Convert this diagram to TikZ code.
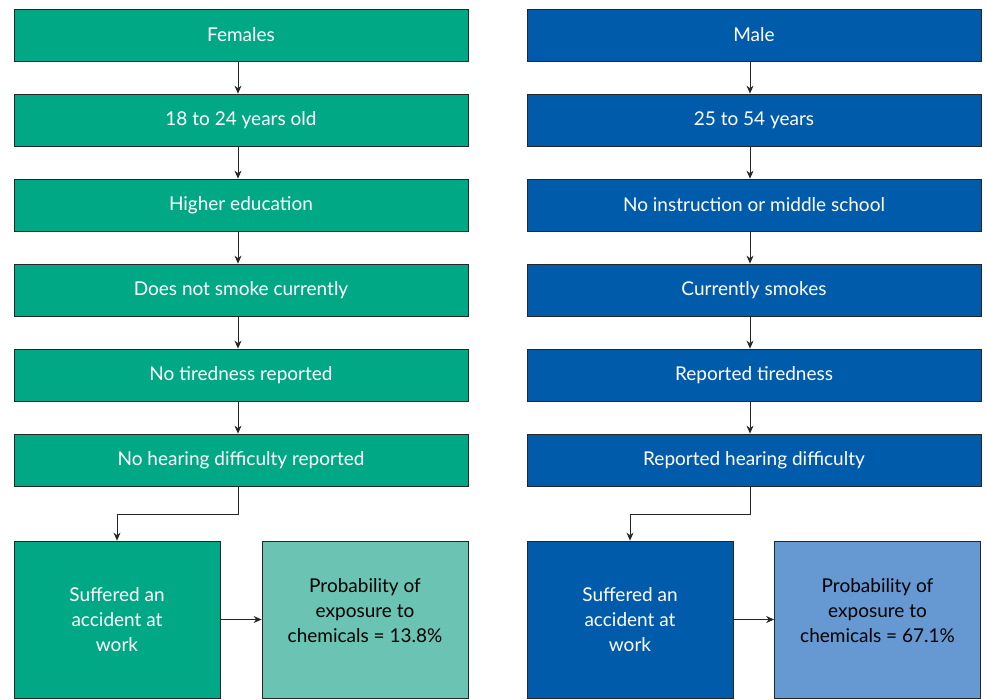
\documentclass[tikz,border=0pt]{standalone}
\usepackage{fontspec}
\setmainfont{Lato}
\usepackage{tikz}
\usetikzlibrary{arrows.meta,positioning}
\definecolor{fgreen}{HTML}{00A886}
\definecolor{fgreenlight}{HTML}{6BC4B3}
\definecolor{mblue}{HTML}{005BAA}
\definecolor{mbluelight}{HTML}{6699D2}

\begin{document}
\begin{tikzpicture}[
  box/.style={draw=black!85,line width=0.8bp,minimum width=454bp,minimum height=52bp,text=white,font=\fontsize{19bp}{25bp}\selectfont},
  sqbox/.style={draw=black!85,line width=0.8bp,minimum width=206bp,minimum height=157bp,align=center,font=\fontsize{19bp}{25bp}\selectfont},
  link/.style={-{Stealth[length=8bp,width=7bp]},line width=0.8bp,black!85}]

\useasboundingbox (0bp,0bp) rectangle (987bp,-700bp);

% females
\node (F1) at (241bp,-35bp)[box,fill=fgreen] {Females};
\node (F2) at (241bp,-120bp)[box,fill=fgreen] {18 to 24 years old};
\node (F3) at (241bp,-205bp)[box,fill=fgreen] {Higher education};
\node (F4) at (241bp,-290bp)[box,fill=fgreen] {Does not smoke currently};
\node (F5) at (241bp,-375bp)[box,fill=fgreen] {No tiredness reported};
\node (F6) at (241bp,-460bp)[box,fill=fgreen] {No hearing difficulty reported};
\node (F7) at (117bp,-619.5bp)[sqbox,fill=fgreen,text=white] {Suffered an\\accident at\\work};
\node (F8) at (365bp,-619.5bp)[sqbox,fill=fgreenlight,text=black,text depth=18bp] {Probability of\\exposure to\\chemicals = 13.8\%};

% males
\node (M1) at (754bp,-35bp)[box,fill=mblue] {Male};
\node (M2) at (754bp,-120bp)[box,fill=mblue] {25 to 54 years};
\node (M3) at (754bp,-205bp)[box,fill=mblue] {No instruction or middle school};
\node (M4) at (754bp,-290bp)[box,fill=mblue] {Currently smokes};
\node (M5) at (754bp,-375bp)[box,fill=mblue] {Reported tiredness};
\node (M6) at (754bp,-460bp)[box,fill=mblue] {Reported hearing difficulty};
\node (M7) at (630bp,-619.5bp)[sqbox,fill=mblue,text=white] {Suffered an\\accident at\\work};
\node (M8) at (877.5bp,-619.5bp)[sqbox,fill=mbluelight,text=black,text depth=18bp] {Probability of\\exposure to\\chemicals = 67.1\%};

\foreach \a/\b in {1/2,2/3,3/4,4/5,5/6} {
  \draw [link] (F\a.south -| 238bp,0) -- (F\b.north -| 238bp,0);
  \draw [link] (M\a.south -| 750bp,0) -- (M\b.north -| 750bp,0);
}
\draw [link] (F6.south -| 238bp,0) |- (117bp,-514bp) -- (F7.north);
\draw [link] (M6.south -| 750bp,0) |- (630bp,-514bp) -- (M7.north);
\draw [link] (F7) -- (F8);
\draw [link] (M7) -- (M8);
\end{tikzpicture}
\end{document}
